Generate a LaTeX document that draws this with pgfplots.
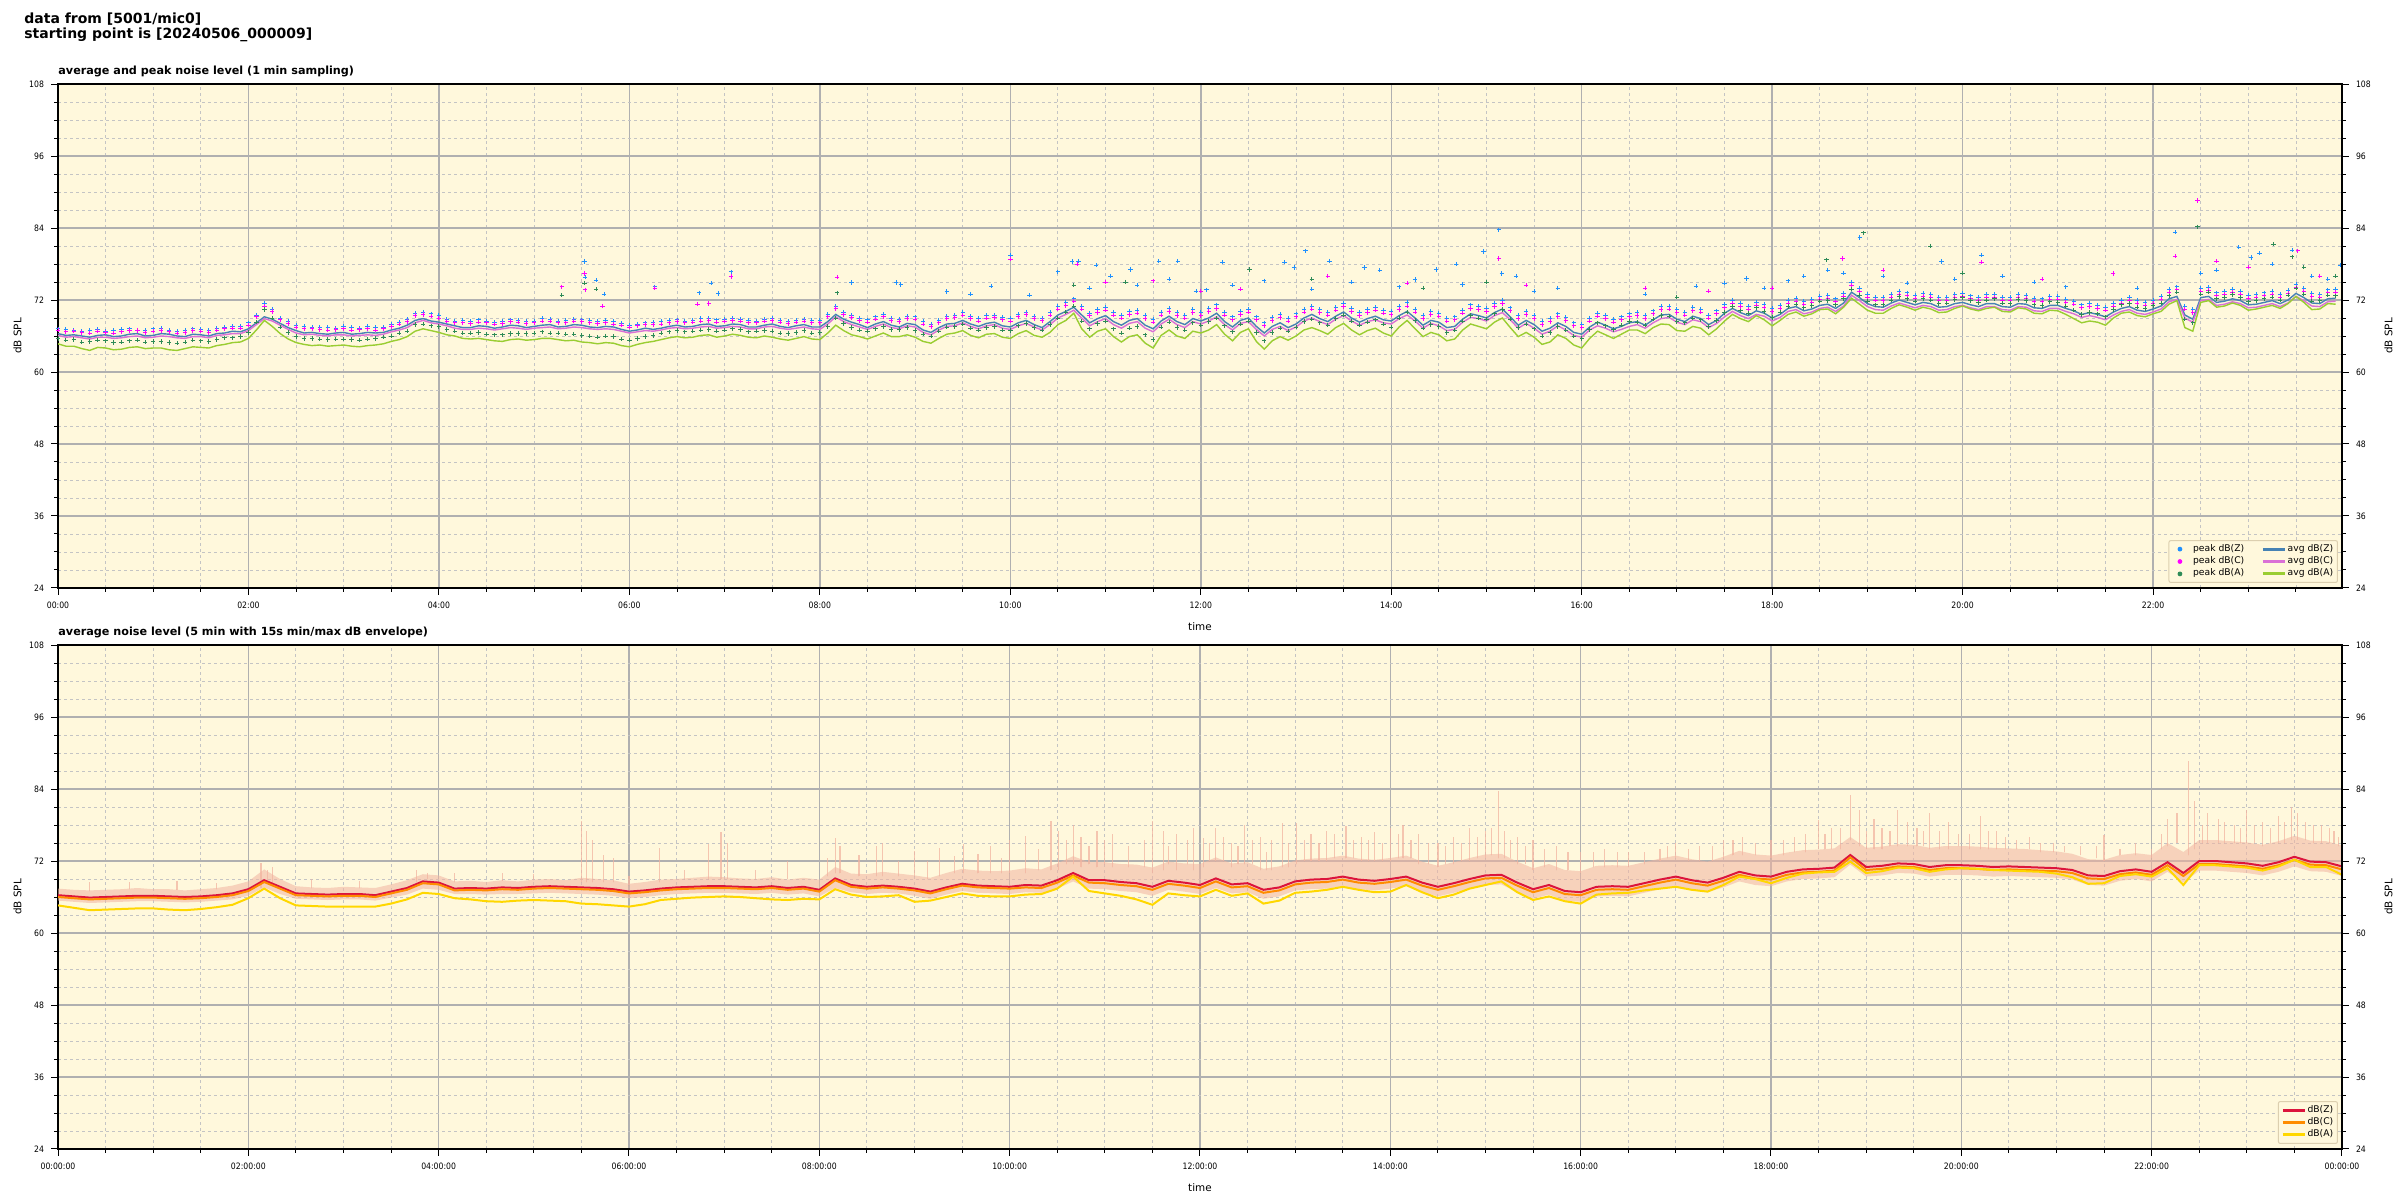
\documentclass[border=0pt]{standalone}
\usepackage{fontspec}
\setmainfont{DejaVu Sans}
\newfontfamily\tickfont{DejaVu Sans}[FakeStretch=0.88]
\usepackage{pgfplots}
\pgfplotsset{compat=1.18}
\usepackage{pgfplotstable}
\usepgfplotslibrary{fillbetween}

\definecolor{bgcol}{HTML}{FFF8DC}
\definecolor{gridmaj}{HTML}{B0B0B0}
\definecolor{gridmin}{HTML}{C4C4C4}
\definecolor{avgZ}{HTML}{4682B4}
\definecolor{avgC}{HTML}{DA70D6}
\definecolor{avgA}{HTML}{9ACD32}
\definecolor{pkZ}{HTML}{1E90FF}
\definecolor{pkC}{HTML}{FF00FF}
\definecolor{pkA}{HTML}{2E8B57}
\definecolor{dbZ}{HTML}{DC143C}
\definecolor{dbC}{HTML}{FF8C00}
\definecolor{dbA}{HTML}{FFD700}
\definecolor{envcol}{HTML}{F2B4A0}
\definecolor{legframe}{HTML}{DCCFAF}

% top panel: t (min), avg Z C A, peak Z C A
\pgfplotstableread{
t zt ct at pz pc pa
0 66.4 66.1 64.7 67.2 67.0 65.6
5 66.1 65.8 64.3 67.1 66.7 65.3
10 66.2 65.9 64.3 67.0 66.8 65.4
15 66.0 65.7 63.9 66.8 66.6 65.0
20 65.8 65.5 63.6 66.9 66.5 65.1
25 66.1 65.8 64.1 67.1 66.8 65.3
30 66.2 65.8 64.0 66.8 66.6 65.2
35 65.9 65.6 63.7 66.9 66.5 64.9
40 66.0 65.7 63.8 67.1 66.7 65.0
45 66.3 65.9 64.1 67.2 66.9 65.2
50 66.4 66.0 64.2 67.0 66.9 65.3
55 66.0 65.7 63.9 66.9 66.6 65.0
60 66.1 65.8 64.0 67.2 66.8 65.1
65 66.4 66.0 64.0 67.3 66.9 65.1
70 66.3 65.9 63.7 66.9 66.7 64.9
75 66.0 65.7 63.6 66.8 66.5 64.8
80 65.9 65.6 63.9 67.0 66.6 65.0
85 66.3 65.9 64.2 67.2 66.9 65.3
90 66.2 65.9 64.1 67.1 66.8 65.2
95 66.0 65.7 64.0 66.9 66.6 65.1
100 66.4 66.1 64.4 67.3 67.0 65.4
105 66.5 66.2 64.6 67.5 67.2 65.7
110 66.8 66.4 64.9 67.6 67.3 65.7
115 66.7 66.4 65.0 67.6 67.3 65.9
120 67.2 66.9 65.6 68.2 67.8 66.6
125 68.2 67.9 67.0 69.5 69.2 68.3
130 69.2 68.9 68.6 71.4 71.0 70.4
135 68.8 68.5 67.6 70.5 70.1 69.0
140 68.1 67.8 66.4 69.0 68.7 67.5
145 67.4 67.1 65.5 68.5 68.1 66.6
150 66.9 66.5 64.9 67.8 67.5 65.9
155 66.5 66.2 64.6 67.6 67.2 65.6
160 66.6 66.3 64.4 67.5 67.2 65.6
165 66.4 66.1 64.5 67.5 67.1 65.5
170 66.3 66.0 64.3 67.4 67.0 65.4
175 66.5 66.2 64.4 67.3 67.1 65.5
180 66.6 66.2 64.5 67.6 67.2 65.5
185 66.3 66.0 64.3 67.4 67.0 65.4
190 66.4 66.1 64.2 67.3 67.1 65.3
195 66.6 66.2 64.4 67.6 67.2 65.5
200 66.5 66.1 64.5 67.4 67.0 65.6
205 66.6 66.3 64.7 67.5 67.2 65.8
210 67.0 66.7 65.1 67.9 67.6 66.0
215 67.3 67.0 65.4 68.3 68.0 66.5
220 67.8 67.4 65.9 68.8 68.4 66.8
225 68.6 68.2 66.8 69.8 69.4 67.9
230 68.9 68.6 67.2 70.0 69.6 68.0
235 68.5 68.2 66.9 69.7 69.3 67.7
240 68.3 68.0 66.6 69.4 69.0 67.6
245 68.0 67.7 66.2 68.8 68.5 67.1
250 67.7 67.3 66.0 68.5 68.2 66.8
255 67.4 67.1 65.6 68.6 68.2 66.5
260 67.4 67.1 65.5 68.4 68.1 66.5
265 67.7 67.3 65.6 68.7 68.3 66.6
270 67.6 67.2 65.4 68.5 68.2 66.3
275 67.3 67.0 65.2 68.3 68.0 66.2
280 67.5 67.2 65.1 68.4 68.1 66.2
285 67.8 67.4 65.4 68.7 68.4 66.4
290 67.7 67.3 65.5 68.6 68.3 66.4
295 67.4 67.1 65.3 68.4 68.1 66.4
300 67.6 67.3 65.4 68.5 68.2 66.5
305 67.8 67.4 65.6 68.9 68.5 66.7
310 67.9 67.5 65.6 68.8 68.5 66.5
315 67.5 67.2 65.4 68.5 68.2 66.5
320 67.6 67.3 65.2 68.6 68.2 66.3
325 67.9 67.5 65.3 68.8 68.5 66.3
330 67.8 67.4 65.0 68.7 68.4 66.1
335 67.5 67.2 64.9 68.6 68.2 66.0
340 67.4 67.1 64.7 68.5 68.1 65.8
345 67.6 67.2 64.9 68.6 68.2 66.0
350 67.5 67.1 64.8 68.4 68.0 65.9
355 67.1 66.8 64.4 68.1 67.8 65.5
360 66.8 66.5 64.2 67.8 67.5 65.3
365 67.0 66.7 64.6 68.0 67.7 65.6
370 67.3 66.9 64.9 68.2 67.9 65.9
375 67.1 66.8 65.1 68.3 67.9 66.1
380 67.3 67.0 65.4 68.4 68.0 66.5
385 67.6 67.3 65.7 68.6 68.2 66.7
390 67.8 67.4 65.9 68.7 68.4 66.9
395 67.5 67.2 65.7 68.5 68.2 66.7
400 67.6 67.3 65.8 68.6 68.3 66.8
405 67.9 67.5 66.1 68.9 68.5 67.0
410 68.0 67.6 66.2 68.9 68.6 67.1
415 67.6 67.3 65.8 68.7 68.3 66.8
420 67.7 67.4 66.0 68.8 68.5 67.0
425 68.0 67.6 66.3 69.0 68.6 67.2
430 67.9 67.5 66.1 68.8 68.5 67.1
435 67.5 67.2 65.8 68.6 68.2 66.7
440 67.5 67.2 65.7 68.5 68.2 66.8
445 67.8 67.5 66.0 68.8 68.5 66.9
450 68.0 67.6 65.8 68.9 68.6 66.8
455 67.6 67.3 65.5 68.6 68.3 66.5
460 67.4 67.1 65.3 68.5 68.1 66.4
465 67.7 67.3 65.6 68.6 68.3 66.6
470 67.9 67.5 65.9 68.8 68.5 66.9
475 67.5 67.2 65.5 68.6 68.2 66.5
480 67.5 67.1 65.4 68.6 68.2 66.6
485 68.4 68.0 66.5 69.6 69.2 67.6
490 69.6 69.2 67.8 71.0 70.6 69.0
495 68.8 68.4 66.9 70.0 69.6 68.1
500 68.3 67.9 66.2 69.5 69.1 67.4
505 67.9 67.5 65.9 69.0 68.6 67.0
510 67.4 67.1 65.5 68.7 68.3 66.8
515 68.0 67.6 66.0 69.2 68.8 67.2
520 68.4 68.0 66.5 69.6 69.2 67.6
525 67.8 67.4 65.9 69.0 68.6 67.1
530 67.5 67.2 65.9 68.8 68.4 67.1
535 68.1 67.7 66.2 69.3 68.9 67.4
540 67.9 67.5 65.8 69.2 68.8 66.9
545 67.0 66.6 65.1 68.4 68.0 66.3
550 66.6 66.2 64.8 68.0 67.6 66.0
555 67.4 67.0 65.6 68.6 68.2 66.8
560 68.0 67.6 66.3 69.3 68.9 67.5
565 68.1 67.7 66.5 69.5 69.1 67.6
570 68.6 68.2 66.9 69.9 69.5 68.0
575 68.0 67.6 66.1 69.3 68.9 67.3
580 67.6 67.2 65.7 68.9 68.5 67.0
585 68.1 67.7 66.3 69.4 69.0 67.4
590 68.3 67.9 66.4 69.5 69.1 67.6
595 67.7 67.3 65.8 69.1 68.7 67.0
600 67.5 67.1 65.6 68.9 68.5 66.9
605 68.2 67.7 66.4 69.6 69.2 67.7
610 68.6 68.1 66.9 70.0 69.6 68.1
615 67.9 67.5 66.1 69.3 68.9 67.4
620 67.4 67.0 65.8 69.0 68.6 67.0
625 68.4 67.9 66.6 69.9 69.5 67.9
630 69.5 69.0 67.9 71.0 70.5 69.0
635 70.1 69.6 68.6 71.6 71.1 70.0
640 70.8 70.3 69.8 72.2 71.8 71.0
645 69.5 69.0 67.2 71.0 70.5 68.5
650 68.2 67.7 65.8 69.8 69.4 67.2
655 68.9 68.4 66.8 70.4 69.9 68.1
660 69.4 68.9 67.2 70.8 70.3 68.5
665 68.4 67.9 65.9 70.0 69.5 67.2
670 67.8 67.3 65.0 69.5 69.0 66.5
675 68.6 68.1 65.9 70.1 69.6 67.3
680 68.9 68.4 66.2 70.3 69.8 67.6
685 67.8 67.3 64.8 69.4 68.9 66.2
690 67.2 66.7 64.0 68.8 68.3 65.4
695 68.5 68.0 66.1 70.0 69.5 67.5
700 69.3 68.8 67.0 70.6 70.1 68.3
705 68.4 67.9 66.0 69.9 69.4 67.4
710 67.9 67.4 65.6 69.5 69.0 67.0
715 68.9 68.4 66.8 70.4 69.9 68.2
720 68.5 68.0 66.5 69.9 69.4 67.8
725 69.0 68.5 67.0 70.6 70.1 68.4
730 69.8 69.2 67.9 71.2 70.6 69.0
735 68.4 67.9 66.3 70.0 69.5 67.7
740 67.5 67.0 65.2 69.2 68.7 66.7
745 68.6 68.1 66.6 70.1 69.6 68.0
750 69.0 68.4 67.2 70.5 70.0 68.5
755 67.6 67.1 65.1 69.2 68.7 66.6
760 66.5 66.0 63.8 68.2 67.7 65.2
765 67.6 67.1 65.2 69.1 68.6 66.6
770 68.2 67.6 65.9 69.6 69.1 67.3
775 67.4 66.9 65.3 69.0 68.5 66.8
780 68.0 67.5 66.0 69.7 69.2 67.5
785 69.0 68.5 67.0 70.5 70.0 68.4
790 69.6 69.0 67.4 71.0 70.5 68.8
795 68.9 68.4 66.9 70.4 69.9 68.2
800 68.4 67.9 66.3 70.0 69.5 67.8
805 69.3 68.8 67.4 70.8 70.3 68.9
810 70.0 69.4 68.1 71.4 70.9 69.5
815 69.0 68.5 67.0 70.6 70.1 68.5
820 68.3 67.8 66.2 69.9 69.4 67.8
825 68.9 68.4 66.9 70.4 69.9 68.3
830 69.3 68.7 67.3 70.8 70.3 68.7
835 68.7 68.2 66.5 70.3 69.8 68.0
840 68.5 68.0 66.0 70.1 69.6 67.5
845 69.4 68.9 67.5 70.9 70.4 69.0
850 70.1 69.5 68.6 71.6 71.0 70.0
855 69.0 68.5 67.2 70.5 70.0 68.6
860 67.8 67.3 65.9 69.4 68.9 67.3
865 68.6 68.1 66.6 70.1 69.6 67.9
870 68.3 67.7 66.2 69.8 69.3 67.6
875 67.4 66.9 65.2 69.0 68.5 66.6
880 67.6 67.1 65.5 69.2 68.7 67.0
885 68.8 68.3 67.0 70.3 69.8 68.5
890 69.7 69.1 68.0 71.2 70.6 69.4
895 69.4 68.9 67.6 70.9 70.4 69.0
900 69.0 68.5 67.2 70.6 70.1 68.8
905 69.9 69.4 68.3 71.4 70.9 69.7
910 70.5 69.9 69.0 72.0 71.4 70.4
915 69.2 68.7 67.4 70.7 70.2 68.8
920 67.8 67.3 65.9 69.4 68.9 67.4
925 68.6 68.1 66.6 70.1 69.6 68.0
930 67.9 67.3 65.8 69.4 68.9 67.2
935 66.8 66.3 64.6 68.4 67.9 66.0
940 67.3 66.8 65.0 68.9 68.4 66.6
945 68.2 67.7 66.2 69.7 69.2 67.6
950 67.6 67.0 65.6 69.1 68.6 67.0
955 66.6 66.1 64.5 68.2 67.7 66.0
960 66.3 65.8 64.0 67.9 67.4 65.6
965 67.5 67.0 65.6 69.0 68.5 67.1
970 68.3 67.7 66.8 69.8 69.3 68.2
975 67.8 67.3 66.2 69.4 68.9 67.7
980 67.2 66.7 65.6 68.8 68.3 67.1
985 67.6 67.1 66.3 69.2 68.7 67.8
990 68.2 67.6 67.0 69.7 69.2 68.4
995 68.4 67.9 67.0 69.9 69.4 68.3
1000 67.8 67.3 66.4 69.4 68.9 67.8
1005 68.7 68.2 67.4 70.2 69.7 68.8
1010 69.5 68.9 68.0 71.0 70.4 69.4
1015 69.6 69.1 67.9 71.0 70.5 69.3
1020 68.8 68.3 66.9 70.4 69.9 68.4
1025 68.4 67.9 66.8 70.0 69.5 68.2
1030 69.3 68.7 67.6 70.8 70.2 69.0
1035 68.9 68.4 67.3 70.5 70.0 68.7
1040 67.9 67.4 66.2 69.5 69.0 67.6
1045 68.6 68.1 67.2 70.2 69.7 68.6
1050 69.8 69.2 68.5 71.3 70.7 69.9
1055 70.6 70.1 69.6 72.0 71.5 70.9
1060 69.9 69.4 68.9 71.4 70.9 70.2
1065 69.4 68.9 68.4 70.9 70.4 69.8
1070 70.2 69.6 69.4 71.6 71.1 70.7
1075 69.8 69.3 68.7 71.3 70.8 70.1
1080 69.0 68.5 67.7 70.6 70.1 69.1
1085 69.6 69.1 68.6 71.1 70.6 70.0
1090 70.6 70.1 69.6 72.0 71.5 70.9
1095 70.9 70.4 70.0 72.3 71.8 71.3
1100 70.2 69.7 69.3 71.8 71.3 70.7
1105 70.5 70.0 69.7 72.1 71.6 71.1
1110 71.1 70.6 70.4 72.6 72.1 71.8
1115 71.3 70.8 70.5 72.8 72.3 71.9
1120 70.6 70.1 69.7 72.2 71.7 71.2
1125 71.5 71.0 70.8 73.1 72.6 72.2
1130 73.3 72.8 72.3 75.0 74.5 73.8
1135 72.4 71.9 71.3 74.0 73.5 72.8
1140 71.4 70.9 70.3 73.0 72.5 71.8
1145 70.9 70.4 69.8 72.5 72.0 71.2
1150 70.8 70.3 69.8 72.4 71.9 71.2
1155 71.5 71.0 70.6 73.0 72.5 72.0
1160 72.0 71.5 71.2 73.5 73.0 72.6
1165 71.6 71.1 70.8 73.2 72.7 72.2
1170 71.2 70.7 70.3 72.8 72.3 71.8
1175 71.6 71.1 70.8 73.1 72.6 72.2
1180 71.4 70.9 70.5 73.0 72.5 72.0
1185 70.8 70.3 69.9 72.4 71.9 71.4
1190 70.9 70.4 70.0 72.5 72.0 71.5
1195 71.4 70.9 70.6 73.0 72.5 72.1
1200 71.6 71.1 71.0 73.1 72.6 72.4
1205 71.2 70.7 70.5 72.7 72.2 71.9
1210 70.9 70.4 70.2 72.5 72.0 71.6
1215 71.4 70.9 70.6 72.9 72.4 72.0
1220 71.4 70.9 70.8 73.0 72.5 72.2
1225 70.9 70.4 70.1 72.4 71.9 71.5
1230 70.8 70.3 70.0 72.4 71.9 71.4
1235 71.4 70.9 70.7 72.9 72.4 72.1
1240 71.3 70.8 70.5 72.8 72.3 71.9
1245 70.7 70.2 69.8 72.3 71.8 71.2
1250 70.6 70.1 69.7 72.2 71.7 71.1
1255 71.1 70.6 70.3 72.6 72.1 71.7
1260 71.1 70.6 70.2 72.6 72.1 71.6
1265 70.6 70.1 69.6 72.1 71.6 71.0
1270 70.2 69.7 68.9 71.8 71.3 70.3
1275 69.6 69.1 68.2 71.2 70.7 69.6
1280 69.9 69.4 68.5 71.4 70.9 69.9
1285 69.6 69.1 68.3 71.1 70.6 69.7
1290 69.2 68.7 67.8 70.8 70.3 69.2
1295 70.0 69.5 69.0 71.5 71.0 70.4
1300 70.6 70.1 69.8 72.0 71.5 71.2
1305 70.9 70.4 70.0 72.4 71.9 71.4
1310 70.3 69.8 69.4 71.9 71.4 70.8
1315 70.1 69.6 69.2 71.6 71.1 70.6
1320 70.5 70.0 69.7 72.0 71.5 71.1
1325 71.0 70.5 70.1 72.6 72.1 71.5
1330 72.2 71.7 71.3 73.8 73.3 72.7
1335 72.6 72.1 71.9 74.2 73.7 73.3
1340 69.5 69.0 67.4 71.0 70.5 68.8
1345 68.8 68.3 66.8 70.4 69.9 68.2
1350 72.4 71.9 71.6 74.0 73.5 73.0
1355 72.6 72.1 71.9 74.1 73.6 73.3
1360 71.6 71.1 70.8 73.2 72.7 72.2
1365 71.8 71.3 71.0 73.4 72.9 72.4
1370 72.2 71.7 71.5 73.8 73.3 72.9
1375 71.9 71.4 71.1 73.4 72.9 72.4
1380 71.2 70.7 70.3 72.8 72.3 71.7
1385 71.3 70.8 70.5 72.9 72.4 71.9
1390 71.6 71.1 70.8 73.2 72.7 72.2
1395 71.9 71.4 71.1 73.5 73.0 72.5
1400 71.4 70.9 70.6 73.0 72.5 72.0
1405 72.0 71.5 71.4 73.6 73.1 72.8
1410 73.1 72.6 72.6 74.6 74.1 74.0
1415 72.4 71.9 71.6 73.9 73.4 73.0
1420 71.5 71.0 70.4 73.1 72.6 71.8
1425 71.4 70.9 70.5 73.0 72.5 71.9
1430 72.2 71.7 71.4 73.7 73.2 72.8
1435 72.3 71.8 71.3 73.8 73.3 72.7
}\toptab

% bottom panel: t (min), 5-min avg Z C A, envelope band upper/lower
\pgfplotstableread{
t z c a eu el
0 66.3 66.0 64.6 67.4 65.4
10 66.1 65.8 64.2 67.2 65.2
20 65.9 65.6 63.8 67.1 65.0
30 66.0 65.7 63.9 67.2 65.1
40 66.1 65.8 64.0 67.3 65.2
50 66.2 65.9 64.1 67.5 65.3
60 66.2 65.9 64.1 67.3 65.3
70 66.1 65.8 63.9 67.3 65.2
80 66.0 65.7 63.8 67.1 65.1
90 66.1 65.8 64.0 67.3 65.2
100 66.3 66.0 64.3 67.5 65.4
110 66.6 66.3 64.7 67.9 65.6
120 67.3 67.0 65.8 68.6 66.2
130 68.8 68.5 67.4 70.6 67.6
140 67.7 67.4 65.8 69.0 66.5
150 66.6 66.3 64.6 67.8 65.7
160 66.5 66.2 64.5 67.6 65.6
170 66.4 66.1 64.4 67.5 65.5
180 66.5 66.2 64.4 67.7 65.6
190 66.5 66.2 64.4 67.6 65.6
200 66.3 66.0 64.4 67.5 65.4
210 66.9 66.6 64.9 68.1 65.9
220 67.5 67.2 65.6 68.8 66.4
230 68.6 68.3 66.7 69.8 67.4
240 68.4 68.1 66.5 69.6 67.2
250 67.4 67.1 65.8 68.6 66.5
260 67.5 67.2 65.6 68.7 66.5
270 67.4 67.1 65.3 68.5 66.4
280 67.6 67.3 65.2 68.8 66.5
290 67.5 67.2 65.4 68.6 66.5
300 67.7 67.4 65.5 68.9 66.6
310 67.8 67.5 65.4 69.0 66.7
320 67.7 67.4 65.3 68.8 66.6
330 67.6 67.3 64.9 69.2 66.5
340 67.5 67.2 64.8 69.0 66.4
350 67.3 67.0 64.6 68.8 66.2
360 66.9 66.6 64.4 68.2 65.8
370 67.1 66.8 64.8 68.5 66.0
380 67.4 67.1 65.5 68.9 66.3
390 67.6 67.3 65.7 69.0 66.5
400 67.7 67.4 65.9 69.2 66.6
410 67.8 67.5 66.0 69.4 66.7
420 67.8 67.5 66.1 69.3 66.7
430 67.7 67.4 66.0 69.1 66.6
440 67.6 67.3 65.8 69.0 66.5
450 67.8 67.5 65.6 69.3 66.7
460 67.5 67.2 65.5 68.9 66.4
470 67.7 67.4 65.7 69.2 66.6
480 67.2 66.9 65.6 68.9 66.1
490 69.1 68.8 67.3 71.0 67.5
500 68.0 67.7 66.4 69.9 66.8
510 67.7 67.4 66.0 69.8 66.5
520 67.9 67.6 66.1 70.2 66.7
530 67.7 67.4 66.3 69.9 66.6
540 67.4 67.1 65.2 69.6 66.2
550 66.9 66.6 65.4 69.2 65.7
560 67.6 67.3 66.0 70.0 66.4
570 68.2 67.9 66.6 70.7 67.0
580 67.9 67.6 66.2 70.4 66.7
590 67.8 67.5 66.1 70.3 66.6
600 67.7 67.4 66.1 70.4 66.5
610 68.0 67.6 66.4 70.8 66.8
620 67.9 67.5 66.5 70.6 66.7
630 68.8 68.4 67.4 71.6 67.4
640 70.0 69.6 69.4 72.8 68.6
650 68.8 68.4 67.0 71.8 67.4
660 68.8 68.3 66.6 71.8 67.3
670 68.5 68.0 66.2 71.5 67.0
680 68.3 67.8 65.6 71.4 66.8
690 67.7 67.2 64.7 70.9 66.2
700 68.7 68.2 66.6 71.9 67.2
710 68.4 67.9 66.3 71.6 66.9
720 68.0 67.5 66.1 71.5 66.5
730 69.1 68.6 67.2 72.6 67.5
740 68.1 67.6 66.2 71.6 66.6
750 68.3 67.8 66.6 71.8 66.8
760 67.2 66.7 64.9 70.7 65.7
770 67.6 67.1 65.4 71.1 66.1
780 68.6 68.1 66.7 72.1 67.1
790 68.9 68.4 66.9 72.4 67.3
800 69.0 68.5 67.2 72.5 67.4
810 69.4 68.9 67.7 72.9 67.8
820 68.9 68.4 67.2 72.4 67.3
830 68.7 68.2 66.8 72.2 67.1
840 69.0 68.5 66.9 72.5 67.4
850 69.4 68.9 68.0 72.9 67.8
860 68.4 67.9 66.8 71.9 66.8
870 67.7 67.2 65.8 71.2 66.1
880 68.3 67.8 66.4 71.8 66.7
890 69.0 68.5 67.4 72.5 67.4
900 69.6 69.1 68.0 73.1 68.0
910 69.7 69.2 68.6 73.2 68.1
920 68.4 67.9 66.8 71.9 66.8
930 67.3 66.8 65.5 70.8 65.7
940 68.0 67.5 66.1 71.5 66.4
950 67.0 66.5 65.3 70.5 65.4
960 66.8 66.3 64.9 70.3 65.2
970 67.7 67.2 66.4 71.2 66.1
980 67.8 67.3 66.6 71.3 66.2
990 67.7 67.2 66.7 71.2 66.1
1000 68.3 67.8 67.1 71.8 66.7
1010 68.9 68.4 67.4 72.4 67.3
1020 69.4 68.9 67.7 72.9 67.8
1030 68.8 68.3 67.2 72.3 67.2
1040 68.4 67.9 66.9 71.9 66.8
1050 69.2 68.7 68.0 72.7 67.6
1060 70.2 69.7 69.4 73.7 68.6
1070 69.6 69.1 69.0 73.1 68.0
1080 69.4 68.9 68.3 72.9 67.8
1090 70.2 69.7 69.2 73.4 68.6
1100 70.6 70.1 69.9 73.8 69.0
1110 70.7 70.2 70.1 73.9 69.1
1120 70.9 70.4 70.2 74.1 69.3
1130 73.0 72.6 71.9 76.0 71.4
1140 71.0 70.5 70.0 74.2 69.4
1150 71.2 70.7 70.3 74.4 69.6
1160 71.6 71.1 70.9 74.8 70.0
1170 71.5 71.0 70.8 74.7 69.9
1180 71.0 70.5 70.2 74.2 69.4
1190 71.3 70.8 70.6 74.5 69.7
1200 71.3 70.8 70.8 74.5 69.7
1210 71.2 70.7 70.7 74.4 69.6
1220 71.0 70.5 70.5 74.2 69.4
1230 71.1 70.6 70.4 74.1 69.5
1240 71.0 70.5 70.3 74.0 69.4
1250 70.9 70.4 70.2 73.8 69.3
1260 70.8 70.3 69.9 73.6 69.2
1270 70.5 70.0 69.3 73.2 68.9
1280 69.6 69.1 68.2 72.3 68.0
1290 69.5 69.0 68.3 72.2 67.9
1300 70.3 69.8 69.5 73.0 68.7
1310 70.6 70.1 69.8 73.3 69.0
1320 70.2 69.7 69.4 73.0 68.6
1330 71.8 71.3 70.8 75.0 70.2
1340 70.0 69.5 68.0 73.5 68.4
1350 72.0 71.5 71.3 75.5 70.4
1360 72.0 71.5 71.3 75.5 70.4
1370 71.8 71.3 71.1 75.3 70.2
1380 71.6 71.1 70.9 75.1 70.0
1390 71.2 70.7 70.4 74.7 69.6
1400 71.8 71.3 71.1 75.3 70.2
1410 72.7 72.2 72.2 76.2 71.1
1420 71.9 71.4 71.0 75.4 70.3
1430 71.8 71.3 71.0 75.3 70.2
1440 71.1 70.6 69.7 74.6 69.5
}\bottab

\pgfplotsset{
  base/.style={
    scale only axis, width=1142pt, height=252pt,
    xmin=0, ymin=24, ymax=108,
    axis background/.style={fill=bgcol},
    ytick={24,36,...,108},
    minor ytick={27,30,33,39,42,45,51,54,57,63,66,69,75,78,81,87,90,93,99,102,105},
    minor xtick={30,60,90,150,180,210,270,300,330,390,420,450,510,540,570,630,660,690,750,780,810,870,900,930,990,1020,1050,1110,1140,1170,1230,1260,1290,1350,1380,1410},
    grid=both,
    major grid style={solid, color=gridmaj, line width=0.75pt},
    minor grid style={dash pattern=on 1.5pt off 1.5pt, color=gridmin, line width=0.45pt},
    tick align=outside,
    major tick length=3.5pt, minor tick length=2pt,
    every tick/.style={black, line width=0.5pt},
    xtick pos=bottom, ytick pos=left,
    axis line style={line width=0.75pt},
    /pgf/number format/assume math mode=true,
    tick label style={font=\tickfont\fontsize{4.4}{5}\selectfont},
    xlabel=time, ylabel={dB SPL},
    xlabel style={font=\fontsize{5.2}{6}\selectfont},
    ylabel style={font=\fontsize{5.2}{6}\selectfont},
    ylabel shift=-3pt,
    title style={font=\bfseries\fontsize{5.6}{6.5}\selectfont, at={(0,1)}, anchor=base west, inner sep=0pt, yshift=-1pt},
    legend cell align=left,
  },
  rside/.style={
    scale only axis, width=1142pt, height=252pt,
    xmin=0, xmax=1440, ymin=24, ymax=108,
    axis x line=none, axis y line*=right,
    ytick={24,36,...,108},
    minor ytick={27,30,33,39,42,45,51,54,57,63,66,69,75,78,81,87,90,93,99,102,105},
    tick align=outside,
    major tick length=3.5pt, minor tick length=2pt,
    every tick/.style={black, line width=0.5pt},
    axis line style={line width=0.75pt},
    /pgf/number format/assume math mode=true,
    tick label style={font=\tickfont\fontsize{4.4}{5}\selectfont},
    ylabel={dB SPL}, ylabel near ticks,
    ylabel style={font=\fontsize{5.2}{6}\selectfont},
  },
  pk/.style={only marks, mark=+, mark size=1.1pt, line width=0.45pt, forget plot},
  spikes/.style={only marks, mark=*, mark size=0pt, mark options={draw=none, fill=none}, forget plot,
    error bars/.cd, y dir=plus, y explicit, error mark=none,
    error bar style={envcol, line width=0.6pt, opacity=0.75}},
  leg/.style={fill=bgcol, draw=legframe, rounded corners=1pt, line width=0.5pt,
    font=\fontsize{4.6}{5.4}\selectfont, inner xsep=1.5pt, inner ysep=1.2pt,
    nodes={inner sep=0.6pt}, row sep=0pt,
    at={(1,0)}, anchor=south east, xshift=-2pt, yshift=2.5pt},
}

\begin{document}
\begin{tikzpicture}
\path (0,0) rectangle (1200pt,600pt);
\node[anchor=base west, inner sep=0pt, font=\bfseries\fontsize{7}{8}\selectfont] at (12pt,588.3pt) {data from [5001/mic0]};
\node[anchor=base west, inner sep=0pt, font=\bfseries\fontsize{7}{8}\selectfont] at (12pt,580.7pt) {starting point is [20240506\_000009]};

% ---------------- top panel ----------------
\begin{axis}[base, at={(29pt,306pt)}, anchor=south west, xmax=1439,
  title={average and peak noise level (1 min sampling)},
  xtick={0,120,...,1320},
  xticklabels={00:00,02:00,04:00,06:00,08:00,10:00,12:00,14:00,16:00,18:00,20:00,22:00},
  legend columns=2,
  legend style={leg, /tikz/every even column/.append style={column sep=8pt}},
]
\addplot[pk, pkZ] table[x=t, y=pz]{\toptab};
\addplot[pk, pkZ] coordinates {(331.8,78.4) (332,75.8) (339,75.3) (344,73.0) (376,74.2) (404,73.2) (411.6,74.8) (416,73.1) (424,76.7) (490.8,75.8) (500,74.9) (528,74.9) (531,74.6) (560,73.4) (575,73.0) (588,74.3) (600,79.5) (612,72.8) (630,76.7) (639,78.4) (643,78.5) (650,74.0) (654,77.8) (663,76.0) (675.6,77.1) (680,74.5) (693.6,78.5) (700,75.5) (705.6,78.5) (717,73.5) (723.6,73.7) (733.8,78.3) (740,74.5) (760,75.2) (772.8,78.3) (778.8,77.4) (786,80.2) (790,73.8) (801,78.5) (815,75.0) (823.2,77.4) (832.8,77.0) (845,74.2) (855,75.4) (868.2,77.1) (880.8,78.0) (885,74.6) (898.2,80.1) (907.8,83.7) (909.6,76.4) (918.6,76.0) (930,73.5) (945,74.0) (1000,73.0) (1032,74.3) (1050,74.8) (1063.8,75.6) (1075,74.0) (1090,75.2) (1100,76.0) (1115,77.0) (1125,76.5) (1135.2,82.4) (1150,76.0) (1165,74.8) (1179.6,81.0) (1186.8,78.4) (1195,75.5) (1212,79.5) (1225,76.0) (1245,75.0) (1265,74.2) (1294.8,76.4) (1310,74.0) (1333.8,83.3) (1350,76.5) (1360,77.0) (1374,80.8) (1381.8,79.1) (1387,79.8) (1395,78.0) (1407.6,80.3) (1420,76.0) (1430,75.5) (1438,77.8)};
\addplot[pk, pkC] table[x=t, y=pc]{\toptab};
\addplot[pk, pkC] coordinates {(317.4,74.2) (331.8,76.4) (332,73.7) (343,71.0) (376,74.0) (403,71.3) (410,71.4) (424,75.9) (490.8,75.8) (600,78.8) (642,78.0) (660,75.0) (690,75.2) (720,73.5) (745,73.8) (800,76.0) (850,74.8) (907.8,78.9) (925,74.5) (1000,74.0) (1040,73.5) (1080,74.0) (1124.4,78.9) (1150,77.0) (1212,78.3) (1250,75.5) (1294.8,76.4) (1333.8,79.3) (1348,88.6) (1360,78.5) (1380,77.5) (1411.2,80.2) (1425,76.0)};
\addplot[pk, pkA] table[x=t, y=pa]{\toptab};
\addplot[pk, pkA] coordinates {(317.4,72.8) (331.8,74.8) (339,73.8) (490.8,73.2) (640,74.5) (672.6,75.0) (750.6,77.1) (790,75.5) (860,74.0) (900,75.0) (1020,72.5) (1114.2,78.7) (1137.6,83.2) (1179.6,81.0) (1200,76.5) (1348,84.2) (1395.8,81.3) (1407.6,79.2) (1415,77.5) (1435,76.0)};
\addplot[avgZ, line width=0.7pt, forget plot] table[x=t, y=zt]{\toptab};
\addplot[avgC, line width=0.7pt, forget plot] table[x=t, y=ct]{\toptab};
\addplot[avgA, line width=0.7pt, forget plot] table[x=t, y=at]{\toptab};
\addlegendimage{legend image code/.code={\path[draw=none, fill=none] (0pt,0pt) -- (10pt,0pt); \fill[pkZ, draw=none] (4pt,0pt) circle (1.2pt);}}
\addlegendentry{peak dB(Z)}
\addlegendimage{legend image code/.code={\draw[avgZ, line width=1.5pt] (0pt,0pt) -- (11pt,0pt);}}
\addlegendentry{avg dB(Z)}
\addlegendimage{legend image code/.code={\path[draw=none, fill=none] (0pt,0pt) -- (10pt,0pt); \fill[pkC, draw=none] (4pt,0pt) circle (1.2pt);}}
\addlegendentry{peak dB(C)}
\addlegendimage{legend image code/.code={\draw[avgC, line width=1.5pt] (0pt,0pt) -- (11pt,0pt);}}
\addlegendentry{avg dB(C)}
\addlegendimage{legend image code/.code={\path[draw=none, fill=none] (0pt,0pt) -- (10pt,0pt); \fill[pkA, draw=none] (4pt,0pt) circle (1.2pt);}}
\addlegendentry{peak dB(A)}
\addlegendimage{legend image code/.code={\draw[avgA, line width=1.5pt] (0pt,0pt) -- (11pt,0pt);}}
\addlegendentry{avg dB(A)}
\end{axis}
\begin{axis}[rside, at={(29pt,306pt)}, anchor=south west, xmax=1439]
\addplot[draw=none, forget plot] coordinates {(0,24) (1439,108)};
\end{axis}

% ---------------- bottom panel ----------------
\begin{axis}[base, at={(29pt,25.5pt)}, anchor=south west, xmax=1440,
  title={average noise level (5 min with 15s min/max dB envelope)},
  xtick={0,120,...,1440},
  xticklabels={00:00:00,02:00:00,04:00:00,06:00:00,08:00:00,10:00:00,12:00:00,14:00:00,16:00:00,18:00:00,20:00:00,22:00:00,00:00:00},
  legend style={leg},
]
\addplot[draw=none, name path=U, forget plot] table[x=t, y=eu]{\bottab};
\addplot[draw=none, name path=L, forget plot] table[x=t, y=el]{\bottab};
\addplot[envcol, fill opacity=0.55, forget plot] fill between[of=U and L];
\addplot[spikes] coordinates {
(128,67.5) +- (0,4.1) (132,68.5) +- (0,2.0) (135,68.0) +- (0,3.0) (226,68.5) +- (0,2.0) (233,69.0) +- (0,1.0)
(330,68.5) +- (0,10.1) (333,68.5) +- (0,8.5) (337,68.5) +- (0,7.0) (344,68.5) +- (0,4.5) (350,68.5) +- (0,4.0)
(379,68.5) +- (0,5.7) (410,69.0) +- (0,5.9) (418,69.0) +- (0,7.9) (422,69.0) +- (0,6.0) (460,69.0) +- (0,3.0)
(490,70.0) +- (0,5.8) (493,70.0) +- (0,4.5) (516,69.5) +- (0,5.0) (520,69.5) +- (0,5.5) (540,69.5) +- (0,4.1)
(556,69.5) +- (0,4.7) (571,70.0) +- (0,4.8) (588,70.0) +- (0,4.5) (600,70.0) +- (0,5.5) (610,70.0) +- (0,6.2)
(626,70.5) +- (0,8.1) (631,70.5) +- (0,6.5) (640,71.5) +- (0,6.5) (645,71.0) +- (0,5.0) (655,71.0) +- (0,6.0)
(665,71.0) +- (0,5.5) (690,70.0) +- (0,8.6) (697,70.5) +- (0,6.5) (705,70.5) +- (0,6.0) (716,70.5) +- (0,7.0)
(722,71.0) +- (0,4.8) (730,72.0) +- (0,5.5) (740,71.0) +- (0,4.0) (748,71.5) +- (0,6.5) (758,70.5) +- (0,5.5)
(765,70.5) +- (0,5.0) (772,71.0) +- (0,7.3) (781,71.5) +- (0,6.8) (790,72.0) +- (0,4.5) (800,72.0) +- (0,5.0)
(812,72.5) +- (0,5.3) (822,72.0) +- (0,4.0) (830,72.0) +- (0,4.8) (840,72.0) +- (0,5.5) (848,72.5) +- (0,5.5)
(858,71.5) +- (0,5.0) (870,71.0) +- (0,4.0) (880,71.5) +- (0,4.5) (890,72.0) +- (0,5.5) (900,72.5) +- (0,4.5)
(908,72.5) +- (0,11.1) (912,72.5) +- (0,4.5) (920,71.5) +- (0,4.5) (930,70.5) +- (0,5.0) (945,70.5) +- (0,4.0)
(960,70.0) +- (0,3.5) (975,71.0) +- (0,3.0) (990,71.0) +- (0,2.5) (1010,72.0) +- (0,2.0) (1020,72.5) +- (0,2.5)
(1035,72.0) +- (0,2.5) (1050,72.5) +- (0,3.0) (1062,73.0) +- (0,3.0) (1080,72.5) +- (0,3.0) (1095,73.5) +- (0,2.5)
(1110,74.0) +- (0,4.8) (1118,74.0) +- (0,3.5) (1130,75.5) +- (0,7.5) (1136,74.5) +- (0,6.0) (1145,74.0) +- (0,5.0)
(1160,74.5) +- (0,6.0) (1172,74.5) +- (0,3.0) (1180,74.0) +- (0,6.0) (1192,74.0) +- (0,4.5) (1205,74.0) +- (0,2.5)
(1212,74.0) +- (0,5.5) (1222,74.0) +- (0,3.0) (1235,74.0) +- (0,1.5) (1250,73.5) +- (0,1.5) (1265,73.5) +- (0,1.0)
(1290,72.0) +- (0,4.4) (1300,73.0) +- (0,1.0) (1320,72.5) +- (0,1.5) (1330,74.5) +- (0,4.5) (1336,75.0) +- (0,5.0)
(1343,73.0) +- (0,15.6) (1347,74.0) +- (0,8.0) (1355,75.0) +- (0,5.0) (1362,75.0) +- (0,4.0) (1372,75.0) +- (0,3.0)
(1380,75.0) +- (0,5.5) (1390,74.5) +- (0,4.0) (1400,75.0) +- (0,4.5) (1408,75.5) +- (0,5.5) (1412,75.5) +- (0,4.5)
(1422,75.0) +- (0,3.0) (1432,75.0) +- (0,2.5) (1438,74.5) +- (0,1.5)
};
\addplot[spikes] coordinates {
(20,67.0) +- (0,1.5) (45,67.3) +- (0,1.2) (75,67.2) +- (0,1.5) (100,67.3) +- (0,1.0) (160,67.5) +- (0,1.5)
(190,67.5) +- (0,1.2) (250,68.5) +- (0,1.5) (280,68.7) +- (0,1.3) (300,68.8) +- (0,1.0) (360,68.0) +- (0,1.5)
(395,69.0) +- (0,1.5) (440,69.0) +- (0,1.5)
(485,69.5) +- (0,3.0) (505,69.5) +- (0,3.5) (530,69.5) +- (0,2.5) (548,69.0) +- (0,3.0) (565,70.0) +- (0,2.8)
(580,70.0) +- (0,3.2) (595,70.0) +- (0,2.5) (618,70.5) +- (0,3.5) (636,71.5) +- (0,4.0) (650,71.5) +- (0,3.0)
(660,71.5) +- (0,4.0) (675,71.0) +- (0,3.5) (685,71.0) +- (0,4.5) (700,71.5) +- (0,3.0) (712,71.5) +- (0,4.0)
(726,72.0) +- (0,3.0) (735,72.0) +- (0,4.0) (744,71.5) +- (0,3.0) (753,71.5) +- (0,4.0) (762,70.5) +- (0,3.0)
(776,71.0) +- (0,4.0) (786,72.0) +- (0,3.5) (795,72.0) +- (0,3.0) (805,72.5) +- (0,4.0) (817,72.5) +- (0,3.0)
(826,72.0) +- (0,3.5) (835,72.0) +- (0,3.0) (845,72.5) +- (0,4.0) (853,72.5) +- (0,3.0) (864,71.5) +- (0,3.5)
(875,71.5) +- (0,3.0) (885,72.0) +- (0,3.0) (895,72.5) +- (0,3.5) (904,73.0) +- (0,4.5) (916,72.5) +- (0,3.0)
(925,71.5) +- (0,3.0) (937,71.0) +- (0,3.0) (952,70.5) +- (0,3.0) (968,71.0) +- (0,2.5) (983,71.0) +- (0,2.5)
(1000,71.5) +- (0,2.0) (1015,72.5) +- (0,2.0) (1028,72.0) +- (0,2.0) (1043,72.0) +- (0,2.5) (1056,73.0) +- (0,2.5)
(1070,73.0) +- (0,2.0) (1088,73.0) +- (0,2.5) (1102,73.5) +- (0,3.0) (1114,74.0) +- (0,2.5) (1124,74.0) +- (0,3.5)
(1140,74.0) +- (0,3.0) (1150,74.0) +- (0,3.5) (1155,74.5) +- (0,2.5) (1166,74.5) +- (0,4.0) (1176,74.5) +- (0,2.5)
(1186,74.0) +- (0,3.0) (1198,74.5) +- (0,2.0) (1217,74.0) +- (0,3.0) (1228,74.0) +- (0,2.0) (1243,74.0) +- (0,2.0)
(1258,73.5) +- (0,1.5) (1275,73.0) +- (0,1.5) (1285,72.5) +- (0,2.0) (1310,73.0) +- (0,2.0) (1326,74.0) +- (0,2.5)
(1352,75.0) +- (0,3.0) (1366,75.0) +- (0,3.5) (1376,75.0) +- (0,2.5) (1385,75.0) +- (0,3.0) (1395,75.0) +- (0,2.5)
(1404,75.0) +- (0,3.5) (1417,75.5) +- (0,3.0) (1427,75.0) +- (0,3.0) (1435,75.0) +- (0,2.0)
};
\addplot[dbZ, line width=1pt, forget plot] table[x=t, y=z]{\bottab};
\addplot[dbC, line width=1pt, forget plot] table[x=t, y=c]{\bottab};
\addplot[dbA, line width=1pt, forget plot] table[x=t, y=a]{\bottab};
\addlegendimage{legend image code/.code={\draw[dbZ, line width=1.5pt] (0pt,0pt) -- (11pt,0pt);}}
\addlegendentry{dB(Z)}
\addlegendimage{legend image code/.code={\draw[dbC, line width=1.5pt] (0pt,0pt) -- (11pt,0pt);}}
\addlegendentry{dB(C)}
\addlegendimage{legend image code/.code={\draw[dbA, line width=1.5pt] (0pt,0pt) -- (11pt,0pt);}}
\addlegendentry{dB(A)}
\end{axis}
\begin{axis}[rside, at={(29pt,25.5pt)}, anchor=south west, xmax=1440]
\addplot[draw=none, forget plot] coordinates {(0,24) (1440,108)};
\end{axis}
\end{tikzpicture}
\end{document}
